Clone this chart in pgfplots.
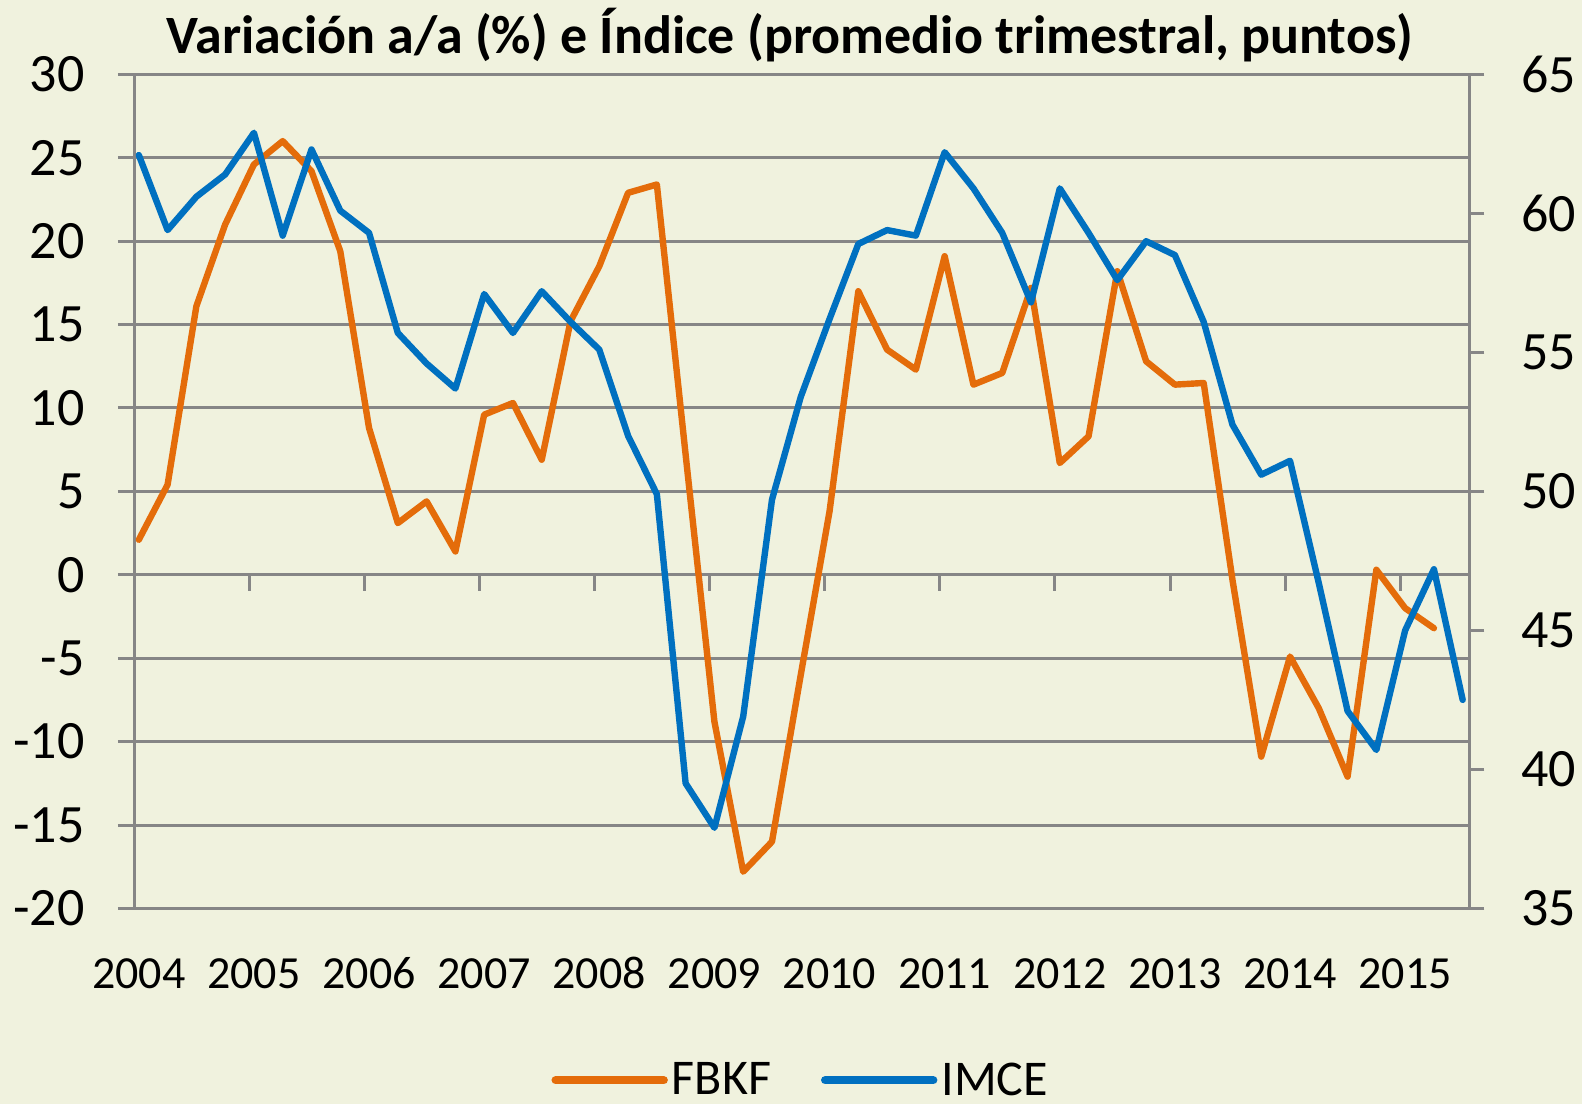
\documentclass[border=0pt]{standalone}
\usepackage{fontspec}
\setmainfont{Carlito}
\usepackage{pgfplots}
\usepackage{pgfplotstable}
\pgfplotsset{compat=1.18}
\definecolor{bg}{RGB}{240,242,222}
\definecolor{gridc}{RGB}{134,134,134}
\definecolor{fbkf}{RGB}{228,108,10}
\definecolor{imce}{RGB}{0,112,192}

\pgfplotstableread{
i fbkf
0 2.1
1 5.4
2 16.1
3 21.0
4 24.6
5 26.0
6 24.2
7 19.4
8 8.8
9 3.1
10 4.4
11 1.4
12 9.6
13 10.3
14 6.9
15 15.2
16 18.5
17 22.9
18 23.4
19 7.2
20 -8.8
21 -17.8
22 -16.0
23 -6.0
24 3.8
25 17.0
26 13.5
27 12.3
28 19.1
29 11.4
30 12.1
31 17.2
32 6.7
33 8.3
34 18.2
35 12.8
36 11.4
37 11.5
38 -0.3
39 -10.9
40 -4.9
41 -8.0
42 -12.1
43 0.3
44 -2.0
45 -3.2
}\fbkfdata

\pgfplotstableread{
i imce
0 62.1
1 59.4
2 60.6
3 61.4
4 62.9
5 59.2
6 62.3
7 60.1
8 59.3
9 55.7
10 54.6
11 53.7
12 57.1
13 55.7
14 57.2
15 56.1
16 55.1
17 52.0
18 49.9
19 39.5
20 37.9
21 41.9
22 49.7
23 53.4
24 56.2
25 58.9
26 59.4
27 59.2
28 62.2
29 60.9
30 59.3
31 56.8
32 60.9
33 59.3
34 57.6
35 59.0
36 58.5
37 56.1
38 52.4
39 50.6
40 51.1
41 46.7
42 42.1
43 40.7
44 45.0
45 47.2
46 42.5
}\imcedata

\begin{document}
\begin{tikzpicture}
\path[use as bounding box, fill=bg] (0,0) rectangle (791pt,552pt);
\node[anchor=base, inner sep=0pt, font=\fontsize{27}{32}\selectfont\bfseries] at (395pt,525pt) {Variación a/a (\%) e Índice (promedio trimestral, puntos)};
\begin{axis}[
  at={(67pt,97.8pt)}, anchor=south west,
  scale only axis, width=667.65pt, height=417pt,
  xmin=-0.167, xmax=46.23, ymin=-20, ymax=30,
  axis y line*=left, axis x line*=middle,
  axis line style={draw=gridc, line width=1.5pt, -},
  ytick={-20,-15,-10,-5,0,5,10,15,20,25,30},
  yticklabels={-20,-15,-10,-5,0,5,10,15,20,25,30},
  ymajorgrids, grid style={draw=gridc, line width=1.5pt},
  xtick={3.833,7.833,11.833,15.833,19.833,23.833,27.833,31.833,35.833,39.833,43.833},
  xticklabels={},
  ytick align=outside, xtick align=center,
  major tick length=8pt,
  tick style={draw=gridc, line width=1.5pt},
  xtick style={yshift=-4pt},
  yticklabel style={anchor=east, inner sep=0pt, xshift=-16.5pt, font=\fontsize{27}{32}\selectfont},
]
\addplot[fbkf, line width=3.2pt, line join=round, line cap=round] table[x=i, y=fbkf] {\fbkfdata};
\end{axis}
\begin{axis}[
  at={(67pt,97.8pt)}, anchor=south west,
  scale only axis, width=667.65pt, height=417pt,
  xmin=-0.167, xmax=46.23, ymin=35, ymax=65,
  axis y line*=right, axis x line*=bottom,
  x axis line style={draw=none},
  y axis line style={draw=gridc, line width=1.5pt, -},
  ytick={35,40,45,50,55,60,65},
  yticklabels={35,40,45,50,55,60,65},
  ytick align=outside, xtick align=inside,
  major tick length=7.5pt,
  ytick style={draw=gridc, line width=1.5pt},
  xtick={0,4,8,12,16,20,24,28,32,36,40,44},
  xticklabels={2004,2005,2006,2007,2008,2009,2010,2011,2012,2013,2014,2015},
  xtick style={draw=none},
  xticklabel style={anchor=base, inner sep=0pt, yshift=-40pt, font=\fontsize{23}{28}\selectfont},
  yticklabel style={anchor=west, inner sep=0pt, xshift=18.3pt, font=\fontsize{27}{32}\selectfont},
  legend style={at={(0.5,0)}, anchor=south, yshift=-99pt, draw=none, fill=none,
    legend columns=2, font=\fontsize{25}{30}\selectfont,
    /tikz/every even column/.append style={column sep=23pt}},
  legend image code/.code={\draw[#1, line width=4.2pt, line cap=round] (0pt,0pt) -- (54pt,0pt);},
  legend cell align=left,
]
\addlegendimage{fbkf}
\addlegendentry{FBKF}
\addplot[imce, line width=3.2pt, line join=round, line cap=round] table[x=i, y=imce] {\imcedata};
\addlegendentry{IMCE}
\end{axis}
\end{tikzpicture}
\end{document}
